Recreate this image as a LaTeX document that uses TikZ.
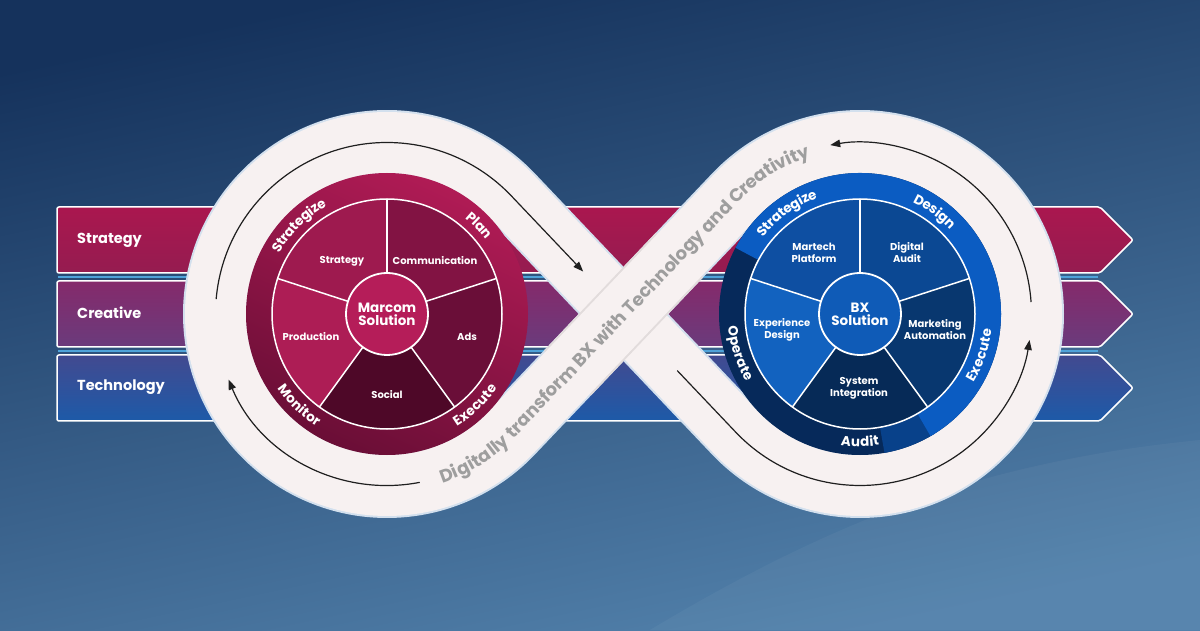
\documentclass[tikz,border=0pt]{standalone}
\usepackage{fontspec}
\setmainfont{Poppins}
\usetikzlibrary{calc,arrows.meta,decorations.text}
\definecolor{bgA}{HTML}{15325C}
\definecolor{bgD}{HTML}{5281AB}
\definecolor{stratTop}{HTML}{AA174F}
\definecolor{stratBot}{HTML}{951C50}
\definecolor{creaTop}{HTML}{852A6B}
\definecolor{creaBot}{HTML}{6A3B7C}
\definecolor{techTop}{HTML}{424A90}
\definecolor{techBot}{HTML}{1D5AA8}
\definecolor{sepBlue}{HTML}{4FA3D9}
\definecolor{loopWhite}{HTML}{F7F1F1}
\definecolor{loopEdge}{HTML}{D3E0EE}
\definecolor{loopShade}{HTML}{E2DCDC}
\definecolor{loopText}{HTML}{9E9E9E}
\definecolor{magRingA}{HTML}{B01B55}
\definecolor{magRingB}{HTML}{6A0E36}
\definecolor{magS}{HTML}{9E1A4F}
\definecolor{magC}{HTML}{821343}
\definecolor{magA}{HTML}{6A0E38}
\definecolor{magSo}{HTML}{4E0828}
\definecolor{magP}{HTML}{AD1D55}
\definecolor{magCtr}{HTML}{B51D59}
\definecolor{bluRingA}{HTML}{0B5CC2}
\definecolor{bluRingMid}{HTML}{08418A}
\definecolor{bluRingB}{HTML}{06295A}
\definecolor{bluM}{HTML}{0E4FA2}
\definecolor{bluD}{HTML}{0B4893}
\definecolor{bluMA}{HTML}{08376F}
\definecolor{bluSI}{HTML}{062A57}
\definecolor{bluE}{HTML}{1262BF}
\definecolor{bluCtr}{HTML}{0F5BB7}
\newcommand\ringfont{\color{white}\bfseries\fontsize{13.5}{13.5}\selectfont}
\newcommand\loopfont{\color{loopText}\bfseries\fontsize{18}{18}\selectfont}
\newcommand\RingCW[3]{%
  \pgfmathsetmacro\RingA{#2+45}\pgfmathsetmacro\RingB{#2-45}%
  \path[decorate,decoration={text along path,text align=center,raise=-4.5pt,text={|\ringfont|#3}}]
    ($(#1)+(\RingA:128)$) arc[start angle=\RingA, end angle=\RingB, radius=128];}
\newcommand\RingCCW[3]{%
  \pgfmathsetmacro\RingA{#2-45}\pgfmathsetmacro\RingB{#2+45}%
  \path[decorate,decoration={text along path,text align=center,raise=-4.5pt,text={|\ringfont|#3}}]
    ($(#1)+(\RingA:128)$) arc[start angle=\RingA, end angle=\RingB, radius=128];}
\newcommand\Wedge[4]{\fill[#4] (#1) -- ($(#1)+(#2:115)$) arc[start angle=#2, end angle=#3, radius=115] -- cycle;}
\newcommand\Sector[4]{\fill[#4] (#1) -- ($(#1)+(#2:141)$) arc[start angle=#2, end angle=#3, radius=141] -- cycle;}
\begin{document}
\begin{tikzpicture}[x=1pt,y=1pt,
  bandshape/.style={draw=white, line width=1.5pt, rounded corners=2pt},
  bandlbl/.style={text=white, font=\bfseries\fontsize{14.5}{16}\selectfont, anchor=west, inner sep=0pt},
  seplinestyle/.style={draw=sepBlue, line width=2pt},
  pielbl/.style={text=white, font=\bfseries\fontsize{10}{12}\selectfont, align=center, inner sep=0pt},
  ctrlbl/.style={circle, draw=white, line width=1.8pt, minimum size=82pt, inner sep=0pt, text=white, align=center, font=\bfseries\fontsize{13.5}{16}\selectfont},
  divider/.style={draw=white, line width=1.5pt},
  arrowline/.style={draw=black!88, line width=1.2pt, -{Triangle[length=10pt,width=7.5pt]}},
  loopline/.style={line join=round}
]
\useasboundingbox (0,0) rectangle (1200,630);
% background
\shade[top color=bgA, bottom color=bgD, shading angle=12] (0,0) rectangle (1200,630);
\fill[white, opacity=0.04] (650,0) .. controls (850,120) and (1000,170) .. (1200,190) -- (1200,0) -- cycle;

% coordinates
\coordinate (C1) at (387,316);
\coordinate (C2) at (860,316);
\coordinate (M) at (623.5,316);
\coordinate (T1u) at ($(C1)+(43.5:171.5)$);
\coordinate (T1d) at ($(C1)+(-43.5:171.5)$);
\coordinate (T2u) at ($(C2)+(136.5:171.5)$);
\coordinate (T2d) at ($(C2)+(-136.5:171.5)$);

% horizontal bands
\shadedraw[bandshape, top color=stratTop, bottom color=stratBot] (57,357) -- (1100,357) -- (1133,390) -- (1100,423) -- (57,423) -- cycle;
\shadedraw[bandshape, top color=creaTop, bottom color=creaBot] (57,283) -- (1100,283) -- (1133,316) -- (1100,349) -- (57,349) -- cycle;
\shadedraw[bandshape, top color=techTop, bottom color=techBot] (57,209) -- (1100,209) -- (1133,242) -- (1100,275) -- (57,275) -- cycle;
\draw[seplinestyle] (58,353) -- (1098,353);
\draw[seplinestyle] (58,279) -- (1098,279);
\node[bandlbl] (lblStrategy) at (77,390) {Strategy};
\node[bandlbl] (lblCreative) at (77,317) {Creative};
\node[bandlbl] (lblTechnology) at (77,243) {Technology};

% infinity loop
\draw[loopline, draw=loopEdge, line width=65pt] (T2d) -- (T1u) arc[start angle=43.5, end angle=316.5, radius=171.5] -- (T2u) arc[start angle=136.5, end angle=-136.5, radius=171.5] -- cycle;
\draw[loopline, draw=loopWhite, line width=61pt] (T2d) -- (T1u) arc[start angle=43.5, end angle=316.5, radius=171.5] -- (T2u) arc[start angle=136.5, end angle=-136.5, radius=171.5] -- cycle;
\draw[draw=loopShade, line width=65pt] ($(T1d)!0.25!(T2u)$) -- ($(T1d)!0.75!(T2u)$);
\draw[draw=loopWhite, line width=61pt] (T1d) -- (T2u);
\path[decorate, decoration={text along path, text align=left, raise=-6.5pt, text={|\loopfont|Digitally transform BX with Technology and Creativity}}]
  ($(C1)+(-72:171.5)$) arc[start angle=-72, end angle=-43.5, radius=171.5] -- (T2u) arc[start angle=136.5, end angle=70, radius=171.5];

% flow arrows
\draw[arrowline] ($(C1)+(175:171.5)$) arc[start angle=175, end angle=43.5, radius=171.5] -- ($(T1u)!0.64!(M)$);
\draw[arrowline] ($(C1)+(281:171.5)$) arc[start angle=281, end angle=202.5, radius=171.5];
\draw[arrowline] ($(M)!0.48!(T2d)$) -- (T2d) arc[start angle=-136.5, end angle=-8.7, radius=171.5];
\draw[arrowline] ($(C2)+(4:171.5)$) arc[start angle=4, end angle=100, radius=171.5];

% left disk (Marcom)
\shade[top color=magRingA, bottom color=magRingB, shading angle=-25] (C1) circle[radius=141];
\Wedge{C1}{90}{162}{magS}
\Wedge{C1}{18}{90}{magC}
\Wedge{C1}{-54}{18}{magA}
\Wedge{C1}{-126}{-54}{magSo}
\Wedge{C1}{162}{234}{magP}
\draw[divider] (C1) circle[radius=115];
\foreach \a in {90,18,-54,-126,162} \draw[divider] ($(C1)+(\a:41)$) -- ($(C1)+(\a:115)$);
\node[ctrlbl, fill=magCtr] (marcom) at (C1) {Marcom\\[-3pt]Solution};
\node[pielbl] (pStrategy) at (342,369) {Strategy};
\node[pielbl] (pCommunication) at (435,369) {Communication};
\node[pielbl] (pAds) at (467,293) {Ads};
\node[pielbl] (pSocial) at (387,235) {Social};
\node[pielbl] (pProduction) at (311,293) {Production};
\RingCW{C1}{135}{Strategize}
\RingCW{C1}{44}{Plan}
\RingCCW{C1}{-46}{Execute}
\RingCCW{C1}{226}{Monitor}

% right disk (BX)
\fill[bluRingB] (C2) circle[radius=141];
\Sector{C2}{-80}{-58}{bluRingMid}
\Sector{C2}{-60}{152}{bluRingA}
\Wedge{C2}{90}{162}{bluM}
\Wedge{C2}{18}{90}{bluD}
\Wedge{C2}{-54}{18}{bluMA}
\Wedge{C2}{-126}{-54}{bluSI}
\Wedge{C2}{162}{234}{bluE}
\draw[divider] (C2) circle[radius=115];
\foreach \a in {90,18,-54,-126,162} \draw[divider] ($(C2)+(\a:41)$) -- ($(C2)+(\a:115)$);
\node[ctrlbl, fill=bluCtr] (bx) at (C2) {BX\\[-3pt]Solution};
\node[pielbl] (pMartech) at (814,377) {Martech\\Platform};
\node[pielbl] (pDigital) at (907,377) {Digital\\Audit};
\node[pielbl] (pMarketing) at (935,300) {Marketing\\Automation};
\node[pielbl] (pSystem) at (859,242) {System\\Integration};
\node[pielbl] (pExperience) at (782,300) {Experience\\Design};
\RingCW{C2}{126}{Strategize}
\RingCW{C2}{54}{Design}
\RingCCW{C2}{-19}{Execute}
\RingCCW{C2}{270}{Audit}
\RingCCW{C2}{198}{Operate}
\end{tikzpicture}
\end{document}
